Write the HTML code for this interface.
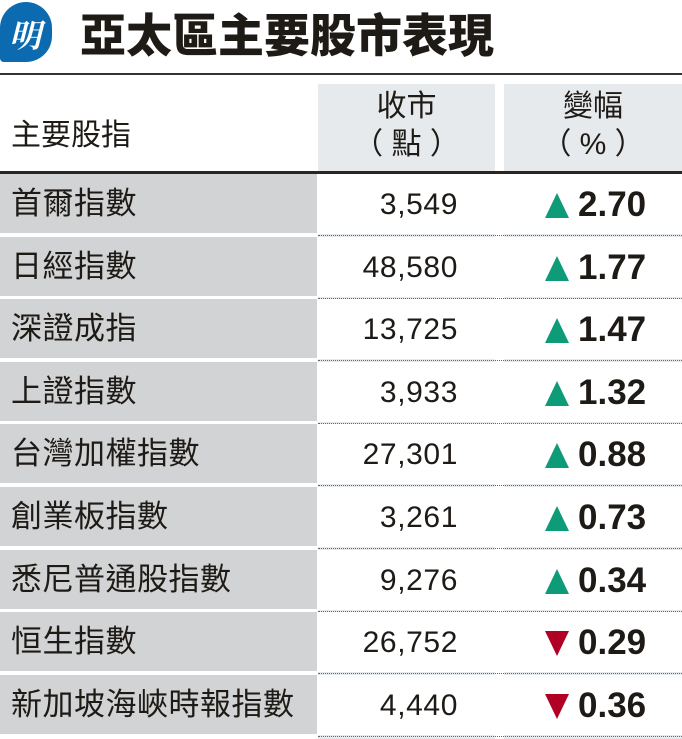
<!DOCTYPE html>
<html><head><meta charset="utf-8"><style>
body{margin:0;width:682px;height:739px;background:#fff;position:relative;overflow:hidden;font-family:"Liberation Sans","Noto Sans CJK TC",sans-serif;color:#1e1a16}
.a{position:absolute}
.name{position:absolute;left:11px;font-size:31px;line-height:60px;white-space:nowrap;letter-spacing:0.5px}
.val{position:absolute;right:224px;font-size:30px;line-height:62px;letter-spacing:0.6px}
.chg{position:absolute;left:578px;font-size:35px;font-weight:bold;line-height:62px}
.tri{position:absolute;left:545px;width:0;height:0;border-left:12px solid transparent;border-right:12px solid transparent}
.up{border-bottom:25px solid #0e9b77}
.dn{border-top:25px solid #b00024}
.g{position:absolute;left:0;width:317px;height:59px;background:#d1d3d4}
.dot{position:absolute;left:318px;width:364px;border-top:1px dotted #666}
</style></head><body>
<div class="a" style="left:0px;top:2px;width:52px;height:60px;background:#0c6bb0;border-radius:28px 28px 28px 4px"></div>
<div class="a" style="left:9px;top:11px;color:#fff;font-size:32px;font-weight:bold;font-style:italic;font-family:'Noto Serif CJK SC',serif">明</div>
<div class="a" style="left:80px;top:8px;font-size:46px;line-height:56px;font-weight:900;letter-spacing:0px">亞太區主要股市表現</div>
<div class="a" style="left:0;top:73px;width:682px;height:2px;background:#333"></div>
<div class="a" style="left:318px;top:84px;width:177px;height:655px;background:#e6eaed"></div>
<div class="a" style="left:504px;top:84px;width:178px;height:655px;background:#e6eaed"></div>
<div class="a" style="left:11px;top:110px;font-size:30px">主要股指</div>
<div class="a" style="left:318px;width:177px;top:88px;text-align:center;font-size:30px;line-height:38px">收市<br>（ 點 ）</div>
<div class="a" style="left:504px;width:178px;top:88px;text-align:center;font-size:30px;line-height:38px">變幅<br>（ % ）</div>
<div class="a" style="left:0;top:171px;width:682px;height:3px;background:#2a2520"></div>
<div id="rows"></div>
<script>
var d=[["首爾指數","3,549",1,"2.70"],["日經指數","48,580",1,"1.77"],["深證成指","13,725",1,"1.47"],["上證指數","3,933",1,"1.32"],["台灣加權指數","27,301",1,"0.88"],["創業板指數","3,261",1,"0.73"],["悉尼普通股指數","9,276",1,"0.34"],["恒生指數","26,752",0,"0.29"],["新加坡海峽時報指數","4,440",0,"0.36"]];
var h="";d.forEach(function(r,i){var t=174+i*62.6;
h+='<div class="a" style="left:318px;top:'+t+'px;width:177px;height:60px;background:#fff"></div><div class="a" style="left:504px;top:'+t+'px;width:178px;height:60px;background:#fff"></div>';
h+='<div class="g" style="top:'+t+'px"></div><div class="dot" style="top:'+(t+61)+'px"></div>';
h+='<div class="name" style="top:'+t+'px">'+r[0]+'</div><div class="val" style="top:'+t+'px">'+r[1]+'</div>';
h+='<div class="tri '+(r[2]?'up':'dn')+'" style="top:'+(t+19)+'px"></div><div class="chg" style="top:'+t+'px">'+r[3]+'</div>';});
document.getElementById("rows").innerHTML=h;
</script>
</body></html>
